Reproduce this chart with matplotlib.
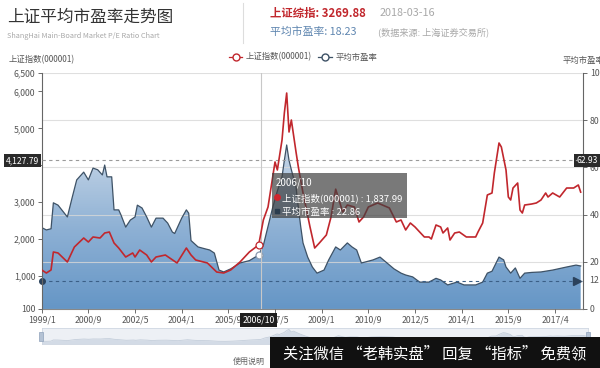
import numpy as np
import matplotlib
matplotlib.use("Agg")
import matplotlib.pyplot as plt
import matplotlib.transforms as mtransforms
from matplotlib.colors import LinearSegmentedColormap
from matplotlib.patches import Polygon, Rectangle
from matplotlib.lines import Line2D

plt.rcParams['font.family'] = ['Noto Sans CJK SC', 'DejaVu Sans']

# month index on the category axis (0 = 1999/1)
tick_pos = [0, 20, 40, 60, 80, 100, 120, 140, 160, 180, 200, 220]
tick_labels = ["1999/1", "2000/9", "2002/5", "2004/1", "2005/9", "2007/5",
               "2009/1", "2010/9", "2012/5", "2014/1", "2015/9", "2017/4"]

# 上证指数 (left axis)
sse_x = [0, 2, 4, 5, 7, 11, 14, 18, 20, 22, 25, 27, 29, 31, 33, 36, 39, 40, 42, 45,
         47, 49, 53, 58, 62, 64, 66, 71, 75, 78, 81, 85, 89, 93, 95, 97, 100, 101,
         103, 104, 105, 106, 107, 109, 110, 112, 115, 117, 119, 122, 124, 126, 129,
         131, 134, 136, 138, 140, 144, 149, 152, 154, 156, 158, 160, 162, 164, 166,
         167, 169, 171, 172, 174, 175, 177, 179, 182, 186, 187, 189, 191, 193, 194,
         196, 197, 199, 200, 201, 202, 204, 205, 206, 207, 210, 212, 214, 216, 217,
         219, 222, 225, 228, 230, 231]
sse_y = [1158, 1076, 1158, 1646, 1619, 1375, 1781, 2025, 1917, 2053, 2025, 2161, 2188,
         1890, 1754, 1510, 1619, 1510, 1700, 1564, 1375, 1510, 1564, 1348, 1754, 1564,
         1429, 1348, 1103, 1076, 1158, 1375, 1646, 1837.99, 2514, 2866, 4087, 3870,
         4683, 5415, 5957, 4900, 5225, 4358, 3950, 3246, 2324, 1754, 1890, 2107, 2595,
         3350, 2730, 2920, 2866, 2460, 2600, 2866, 2975, 2840, 2460, 2514, 2243, 2432,
         2324, 2188, 2053, 2053, 1998, 2378, 2324, 2161, 2297, 1971, 2161, 2188, 2053,
         2053, 2188, 2432, 3192, 3246, 3788, 4602, 4494, 3870, 3137, 3056, 3381, 3517,
         2785, 2703, 2920, 2947, 2975, 3056, 3246, 3137, 3246, 3137, 3381, 3381, 3463,
         3270]

# 平均市盈率 (right axis)
pe_x = [0, 2, 4, 5, 7, 11, 13, 15, 18, 20, 22, 24, 26, 27, 28, 30, 31, 33, 34, 36,
        38, 40, 41, 43, 45, 47, 49, 52, 54, 56, 57, 60, 62, 63, 64, 67, 70, 72, 74,
        76, 78, 81, 85, 89, 93, 95, 97, 99, 101, 103, 104, 105, 106, 107, 109, 110,
        111, 112, 114, 116, 118, 121, 123, 126, 128, 131, 133, 135, 137, 139, 142,
        145, 148, 151, 154, 156, 159, 162, 166, 169, 171, 174, 178, 181, 186, 189,
        191, 193, 196, 198, 199, 201, 203, 205, 207, 210, 214, 219, 225, 229, 231]
pe_y = [34.5, 33.5, 34, 45, 44, 39, 47, 54.7, 58, 54.7, 59.7, 59, 56.8, 61, 56, 56, 42,
        42, 39.8, 34.7, 37.7, 39, 44, 42.8, 39, 34.7, 38.5, 38.5, 36.4, 32.6, 32, 38.5,
        42, 40.6, 29, 26.3, 25.5, 25, 23.7, 16.5, 15.7, 17, 19.5, 20.5, 22.86, 27, 35,
        43, 50, 56, 63, 69.5, 63, 59, 51.7, 43, 35, 28, 22, 17.8, 15.2, 16.5, 20.8,
        26.3, 25, 28, 26.3, 25, 19.5, 20, 20.8, 22, 19.5, 17, 15.2, 14.4, 13.6, 11.4,
        11.4, 13, 12.3, 10.2, 11.4, 10.2, 10.2, 11.4, 15.2, 16, 22, 20.8, 17.8, 15.2,
        17.4, 13, 15.2, 15.5, 15.7, 16.5, 17.8, 18.6, 18.23]

hover = 93
W, H = 600, 368


def px(x, y):
    return x / W, 1 - y / H


fig = plt.figure(figsize=(6, 3.68), dpi=100)
ax2 = fig.add_axes([41.7 / W, 1 - 309 / H, (583 - 41.7) / W, 236 / H])
ax = ax2.twinx()
ax.yaxis.tick_left()
ax2.yaxis.tick_right()
ax.set_zorder(ax2.get_zorder() + 1)
ax.patch.set_visible(False)

xmax = 232
ax.set_xlim(0, xmax)
ax2.set_xlim(0, xmax)
ax.set_ylim(100, 6500)
ax2.set_ylim(0, 100)

# PE area with vertical gradient
verts = list(zip(pe_x, pe_y)) + [(pe_x[-1], 0), (pe_x[0], 0)]
poly = Polygon(verts, closed=True, facecolor='none', edgecolor='none')
ax2.add_patch(poly)
cmap = LinearSegmentedColormap.from_list(
    "pe", ["#6596c6", "#8db0d4", "#c3d4e6", "#eaf0f6"], N=256)
grad = np.linspace(1, 0, 256).reshape(-1, 1)
im = ax2.imshow(grad, extent=[0, xmax, 0, 100], aspect='auto', cmap=cmap,
                origin='upper', zorder=1)
im.set_clip_path(poly)
ax2.plot(pe_x, pe_y, color='#3e5266', lw=0.9, zorder=3)

ax2.set_yticks([0, 20, 40, 60, 80, 100])
ax2.grid(axis='y', color='#d8d8d8', lw=0.8, alpha=0.8, zorder=2)
ax2.set_axisbelow(False)

ax.plot(sse_x, sse_y, color='#c1272d', lw=1.2, zorder=4)

# hover markers
ax.plot([hover], [1837.99], 'o', ms=5, mfc='white', mec='#c1272d', mew=0.9, zorder=5)
ax2.plot([hover], [22.86], 'o', ms=5, mfc='white', mec='#8a9bb0', mew=0.9, zorder=5)
ax.axvline(hover + 1, color='#c8c8c8', lw=0.8, zorder=1)

# mark lines
ax.axhline(4127.79, color='#9a9a9a', lw=0.8, ls=(0, (3, 3)), zorder=3)
ax2.axhline(12, color='#3b5f86', lw=0.8, ls=(0, (3, 3)), zorder=3)
ax2.plot([0], [12], 'o', color='#2b425c', ms=4, clip_on=False, zorder=6)
ax2.plot([229.5], [12], marker='>', color='#2b425c', ms=6, zorder=6)

# axes styling
for a in (ax, ax2):
    for s in a.spines.values():
        s.set_visible(False)
ax.spines['left'].set_visible(True)
ax.spines['left'].set_color('#666666')
ax2.spines['right'].set_visible(True)
ax2.spines['right'].set_color('#666666')
ax2.spines['bottom'].set_visible(True)
ax2.spines['bottom'].set_color('#888888')

ax.set_yticks([100, 1000, 2000, 3000, 4000, 5000, 6000, 6500])
ax.set_yticklabels(["100", "1,000", "2,000", "3,000", "", "5,000", "6,000", "6,500"])
ax.tick_params(axis='y', labelsize=6.3, colors='#555555', length=3, width=0.6,
               pad=1.5, left=True, right=False, labelleft=True, labelright=False)
ax2.tick_params(axis='y', labelsize=6.3, colors='#555555', length=3, width=0.6,
                pad=2, right=True, left=False, labelright=True, labelleft=False)
ax.set_xticks([])
ax2.set_xticks(tick_pos)
ax2.set_xticklabels(tick_labels)
ax2.tick_params(axis='x', labelsize=6.3, colors='#555555', length=3, width=0.6, pad=2)
for t in ax.get_yticklabels() + ax2.get_yticklabels() + ax2.get_xticklabels():
    t.set_color('#555555')

# value labels on mark lines
bl = mtransforms.blended_transform_factory(ax.transAxes, ax.transData)
ax.text(-0.005, 4127.79, "4,127.79", transform=bl, ha='right', va='center',
        fontsize=6.2, color='white', zorder=10,
        bbox=dict(boxstyle='square,pad=0.25', fc='#2a2a2a', ec='none'))
br = mtransforms.blended_transform_factory(ax2.transAxes, ax2.transData)
ax2.text((587 - 41.7) / (583 - 41.7), 62.93, "62.93", transform=br, ha='center',
         va='center', fontsize=6.2, color='white', zorder=10, clip_on=False,
         bbox=dict(boxstyle='square,pad=0.25', fc='#2a2a2a', ec='none'))
ax2.text(1.012, 12, "12", transform=br, ha='left', va='center',
         fontsize=6.3, color='#555555', clip_on=False)

bx = mtransforms.blended_transform_factory(ax2.transData, ax2.transAxes)
ax2.text(hover, -0.047, "2006/10", transform=bx, ha='center', va='center',
         fontsize=6.3, color='white', zorder=10, clip_on=False,
         bbox=dict(boxstyle='square,pad=0.3', fc='#1e1e1e', ec='none'))

# tooltip
x0, y0 = px(272, 218)
x1, y1 = px(407, 173)
fig.patches.append(Rectangle((x0, y0), x1 - x0, y1 - y0, transform=fig.transFigure,
                             fc='#404040', ec='none', alpha=0.7, zorder=20))
fig.text(*px(276, 183), "2006/10", fontsize=7, color='white', va='center', zorder=21)
fig.text(*px(282, 198), "上证指数(000001) : 1,837.99", fontsize=6.8, color='white',
         va='center', zorder=21)
fig.text(*px(282, 212), "平均市盈率 : 22.86", fontsize=6.8, color='white',
         va='center', zorder=21)
fig.add_artist(Line2D([px(277, 0)[0]], [px(0, 197)[1]], marker='o', ms=4,
                      color='#d0262e', transform=fig.transFigure, zorder=22))
fig.add_artist(Line2D([px(277, 0)[0]], [px(0, 211)[1]], marker='s', ms=3.5,
                      color='#2b3c4e', transform=fig.transFigure, zorder=22))

# titles and header
fig.text(*px(7, 17), "上证平均市盈率走势图", fontsize=12, color='#333333', va='center')
fig.text(*px(7, 36), "ShangHai Main-Board Market P/E Ratio Chart", fontsize=5.3,
         color='#a8a8a8', va='center')
fig.add_artist(Line2D([px(243, 0)[0]] * 2, [px(0, 3)[1], px(0, 43)[1]],
                      color='#dddddd', lw=0.8, transform=fig.transFigure))
fig.text(*px(270, 13), "上证综指: 3269.88", fontsize=8.2, color='#c1272d',
         fontweight='bold', va='center')
fig.text(*px(380, 13), "2018-03-16", fontsize=7.8, color='#a8a8a8', va='center')
fig.text(*px(270, 32), "平均市盈率: 18.23", fontsize=7.8, color='#5f86b0', va='center')
fig.text(*px(378, 32), "(数据来源: 上海证券交易所)", fontsize=6.6, color='#a8a8a8',
         va='center')

fig.text(*px(9, 60), "上证指数(000001)", fontsize=6, color='#555555', va='center')
fig.text(*px(563, 60), "平均市盈率", fontsize=6, color='#555555', va='center')

handles = [Line2D([], [], color='#c1272d', lw=0.9, marker='o', ms=5, mfc='white',
                  mec='#c1272d'),
           Line2D([], [], color='#3e5266', lw=0.9, marker='o', ms=5, mfc='white',
                  mec='#3e5266')]
fig.legend(handles, ["上证指数(000001)", "平均市盈率"], loc='center',
           bbox_to_anchor=px(303, 57), ncol=2, frameon=False, fontsize=6,
           handlelength=1.6, columnspacing=0.8, handletextpad=0.4, labelcolor='#555555')

# data zoom slider
sx0, sy0 = px(41.5, 344)
sx1, sy1 = px(588, 328)
axz = fig.add_axes([sx0, sy0, sx1 - sx0, sy1 - sy0])
axz.set_xlim(0, xmax)
axz.set_ylim(0, 6500)
axz.set_facecolor('#edf0f5')
axz.fill_between(sse_x, sse_y, 0, color='#d3dbe6', lw=0)
axz.plot(sse_x, sse_y, color='#c4cedb', lw=0.6)
axz.set_xticks([])
axz.set_yticks([])
for s in axz.spines.values():
    s.set_color('#d0d7e2')
    s.set_linewidth(0.6)
for hx in (41.5, 588):
    a, b = px(hx - 2, 341)
    fig.patches.append(Rectangle((a, b), 4 / W, 9 / H, transform=fig.transFigure,
                                 fc='#b4c2d4', ec='#8fa2bb', lw=0.5, zorder=5))

fig.text(*px(233, 361), "使用说明", fontsize=5.8, color='#666666', va='center')

# overlay banner
bx0, by0 = px(270, 368)
fig.patches.append(Rectangle((bx0, by0), (600 - 270) / W, 31 / H,
                             transform=fig.transFigure, fc='#111111', ec='none', zorder=30))
fig.text(*px(435, 354), "关注微信 “老韩实盘” 回复 “指标” 免费领", fontsize=11,
         color='white', ha='center', va='center', zorder=31)

fig.savefig("out.png", dpi=100)
